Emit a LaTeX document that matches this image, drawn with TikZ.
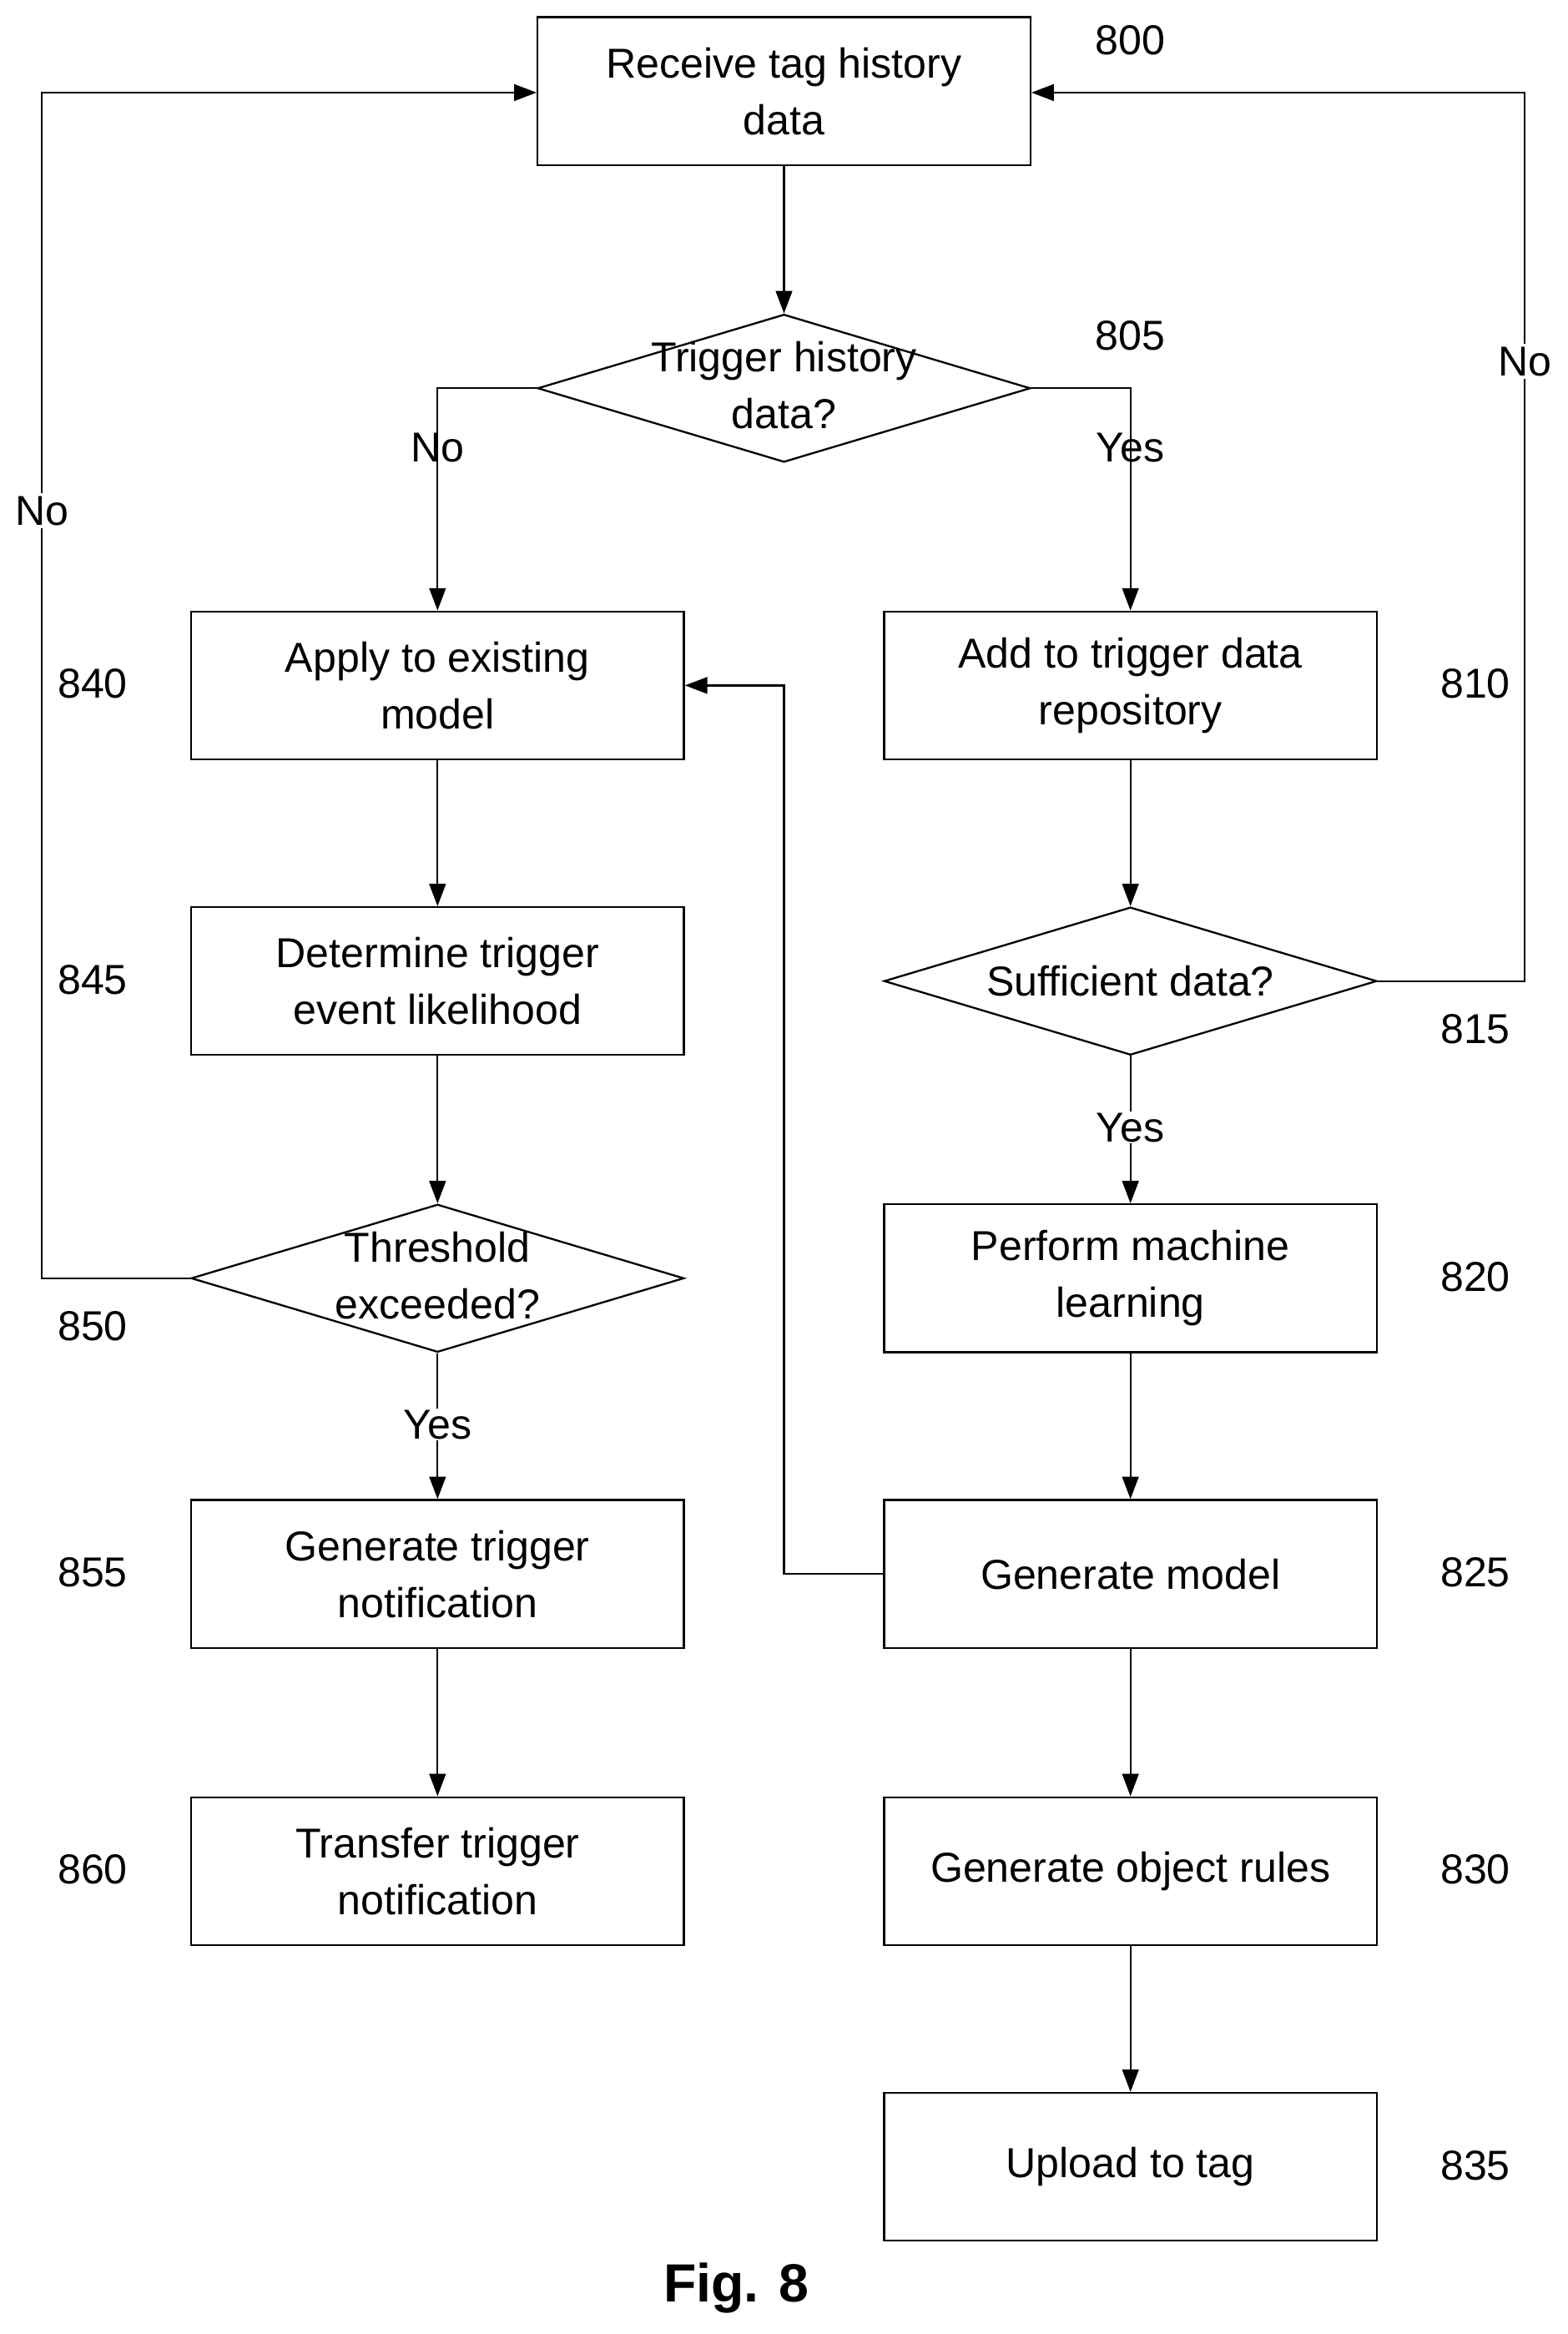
\documentclass[tikz,border=0pt]{standalone}
\usepackage{fontspec}
\setmainfont{Liberation Sans}
\usetikzlibrary{arrows.meta,shapes.geometric}
\begin{document}
\begin{tikzpicture}[x=1pt,y=-1pt,
  every node/.style={font=\fontsize{28}{38}\selectfont},
  box/.style={draw,line width=1.3pt,minimum width=330pt,minimum height=99pt,align=center,inner sep=0pt},
  dia/.style={draw,line width=1.3pt,diamond,minimum width=330pt,minimum height=99pt,inner sep=0pt},
  txt/.style={align=center,inner sep=0pt},
  arr/.style={line width=1.3pt,-{Triangle[length=15pt,width=11pt]}},
  ln/.style={line width=1.3pt}]
\useasboundingbox (0,0) rectangle (1050,1563);
\node[box] (b800) at (525,61) {Receive tag history\\data};
\node[dia] (d805) at (525,260) {};
\node[txt] (t805) at (525,258) {Trigger history\\data?};
\node[box] (b840) at (293,459) {Apply to existing\\model};
\node[box] (b810) at (757,459) {Add to trigger data\\repository};
\node[box] (b845) at (293,657) {Determine trigger\\event likelihood};
\node[dia] (d815) at (757,657) {};
\node[txt] (t815) at (757,657) {Sufficient data?};
\node[dia] (d850) at (293,856) {};
\node[txt] (t850) at (293,854) {Threshold\\exceeded?};
\node[box] (b820) at (757,856) {Perform machine\\learning};
\node[box] (b855) at (293,1054) {Generate trigger\\notification};
\node[box] (b825) at (757,1054) {Generate model};
\node[box] (b860) at (293,1253) {Transfer trigger\\notification};
\node[box] (b830) at (757,1253) {Generate object rules};
\node[box] (b835) at (757,1451) {Upload to tag};

\foreach \t/\x/\y in {800/757/27,805/757/225,810/988/458,815/988/689,820/988/855,825/988/1053,830/988/1252,835/988/1450,840/62/458,845/62/656,850/62/888,855/62/1053,860/62/1252}
  \node (n\t) at (\x,\y) {\t};

\draw[arr] (b800) -- (d805);
\coordinate (c1) at (293,260);
\coordinate (c2) at (757,260);
\draw[arr] (d805.west) -- (c1) -- (b840.north);
\draw[arr] (d805.east) -- (c2) -- (b810.north);
\node (no1) at (293,300) {No};
\node (yes1) at (757,300) {Yes};
\draw[arr] (b840) -- (b845);
\draw[arr] (b845) -- (d850.north);
\draw[arr] (b810) -- (d815.north);
\draw[arr] (d815.south) -- (b820);
\node[fill=white,inner sep=1pt] (yes2) at (757,755) {Yes};
\draw[arr] (d850.south) -- (b855);
\node[fill=white,inner sep=1pt] (yes3) at (293,954) {Yes};
\draw[arr] (b855) -- (b860);
\draw[arr] (b820) -- (b825);
\draw[arr] (b825) -- (b830);
\draw[arr] (b830) -- (b835);
\coordinate (c3) at (525,1054);
\coordinate (c4) at (525,459);
\draw[arr] (b825.west) -- (c3) -- (c4) -- (b840.east);
\coordinate (c5) at (1021,657);
\coordinate (c6) at (1021,62);
\draw[arr] (d815.east) -- (c5) -- (c6) -- (b800.east |- c6);
\node[fill=white,inner sep=2pt] (no2) at (1021,242) {No};
\coordinate (c7) at (28,856);
\coordinate (c8) at (28,62);
\draw[arr] (d850.west) -- (c7) -- (c8) -- (b800.west |- c8);
\node[fill=white,inner sep=2pt] (no3) at (28,342) {No};
\node[font=\fontsize{36}{40}\selectfont\bfseries] (fig) at (493,1532) {Fig. 8};
\end{tikzpicture}
\end{document}
